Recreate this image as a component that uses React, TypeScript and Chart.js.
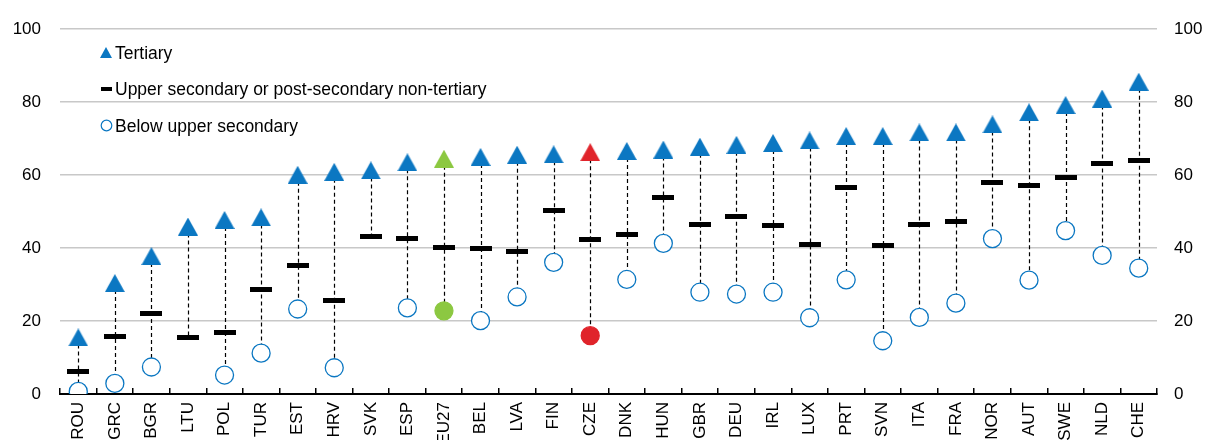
import React, { useEffect, useRef } from 'react';
import { Chart, registerables } from 'chart.js';

Chart.register(...registerables);

// ---- Data ----
const categories = ['ROU', 'GRC', 'BGR', 'LTU', 'POL', 'TUR', 'EST', 'HRV', 'SVK', 'ESP', 'EU27', 'BEL', 'LVA', 'FIN', 'CZE', 'DNK', 'HUN', 'GBR', 'DEU', 'IRL', 'LUX', 'PRT', 'SVN', 'ITA', 'FRA', 'NOR', 'AUT', 'SWE', 'NLD', 'CHE'];
const tertiary = [15.5, 30.4, 37.8, 45.9, 47.7, 48.4, 60.1, 60.9, 61.3, 63.5, 64.5, 65.0, 65.6, 65.7, 66.3, 66.6, 67.0, 67.8, 68.3, 68.8, 69.5, 70.7, 70.7, 71.7, 71.7, 73.9, 77.2, 79.2, 81.0, 85.6];
const upperSecondary = [6.3, 15.8, 22.2, 15.6, 16.8, 28.6, 35.3, 25.5, 43.3, 42.6, 40.2, 40.0, 39.0, 50.2, 42.3, 43.6, 53.8, 46.5, 48.6, 46.2, 41.1, 56.7, 40.6, 46.5, 47.3, 58.1, 57.1, 59.3, 63.3, 64.0];
const belowUpper: (number | null)[] = [0.7, 2.9, 7.4, null, 5.2, 11.2, 23.3, 7.2, null, 23.6, 22.8, 20.1, 26.6, 36.1, 16.0, 31.4, 41.3, 27.9, 27.4, 27.9, 20.9, 31.3, 14.6, 21.0, 24.9, 42.6, 31.2, 44.8, 38.0, 34.5];
const yTicks = [0, 20, 40, 60, 80, 100];
const seriesLabels = ['Tertiary', 'Upper secondary or post-secondary non-tertiary', 'Below upper secondary'];

// ---- Styles ----
const BLUE = '#0B77C2';
const GREEN = '#8CC841';
const RED = '#E0242B';
const highlight: Record<string, string> = { EU27: GREEN, CZE: RED };
const FONT = "'Liberation Sans', Arial, Helvetica, sans-serif";

function fontAvailable(name: string) {
  const c = document.createElement('canvas');
  const g = c.getContext('2d')!;
  const sample = 'GRC 0123456789 abcdefghijklm';
  g.font = '40px monospace';
  const a = g.measureText(sample).width;
  g.font = `40px '${name}', monospace`;
  const b = g.measureText(sample).width;
  return Math.abs(a - b) > 0.5;
}

function triangleImg(color: string, w: number, h: number) {
  const c = document.createElement('canvas');
  c.width = w;
  c.height = h;
  const g = c.getContext('2d')!;
  g.fillStyle = color;
  g.beginPath();
  g.moveTo(w / 2, 0);
  g.lineTo(w, h);
  g.lineTo(0, h);
  g.closePath();
  g.fill();
  return c;
}

function dashImg(color: string, w: number, h: number) {
  const c = document.createElement('canvas');
  c.width = w;
  c.height = h;
  const g = c.getContext('2d')!;
  g.fillStyle = color;
  g.fillRect(0, 0, w, h);
  return c;
}

function circleImg(color: string, d: number, lw: number) {
  const c = document.createElement('canvas');
  c.width = d;
  c.height = d;
  const g = c.getContext('2d')!;
  g.strokeStyle = color;
  g.fillStyle = '#fff';
  g.lineWidth = lw;
  g.beginPath();
  g.arc(d / 2, d / 2, d / 2 - lw, 0, Math.PI * 2);
  g.fill();
  g.stroke();
  return c;
}

const connectorPlugin = {
  id: 'connectors',
  beforeDatasetsDraw(chart: any) {
    const { ctx } = chart;
    const x = chart.scales.x;
    const y = chart.scales.y;
    const ds = chart.data.datasets;
    ctx.save();
    ctx.strokeStyle = '#000';
    ctx.lineWidth = 1.2;
    ctx.setLineDash([4, 3]);
    chart.data.labels.forEach((_: any, i: number) => {
      const vals = ds.map((d: any) => d.data[i]).filter((v: any) => v !== null && v !== undefined);
      if (vals.length < 2) return;
      const px = Math.round(x.getPixelForValue(i)) + 0.5;
      ctx.beginPath();
      ctx.moveTo(px, y.getPixelForValue(Math.max(...vals)));
      ctx.lineTo(px, y.getPixelForValue(Math.min(...vals)));
      ctx.stroke();
    });
    ctx.restore();
  },
};

const legendPlugin = {
  id: 'insideLegend',
  afterDraw(chart: any) {
    const { ctx, chartArea } = chart;
    const markers = [
      triangleImg(BLUE, 12, 11),
      dashImg('#000', 11, 4),
      circleImg(BLUE, 13, 1.2),
    ];
    const rowOffsets = [23.7, 59.5, 96.3];
    ctx.save();
    ctx.font = `17.5px ${FONT}`;
    ctx.fillStyle = '#000';
    ctx.textAlign = 'left';
    ctx.textBaseline = 'alphabetic';
    chart.data.datasets.forEach((d: any, i: number) => {
      const cy = chartArea.top + rowOffsets[i];
      const cx = chartArea.left + 46;
      const m = markers[i];
      ctx.drawImage(m, Math.round(cx - m.width / 2), Math.round(cy - m.height / 2));
      ctx.fillText(d.label, chartArea.left + 55, cy + 6.3);
    });
    ctx.restore();
  },
};

export default function App() {
  const ref = useRef<HTMLCanvasElement | null>(null);

  useEffect(() => {
    if (!ref.current) return;
    Chart.defaults.font.family = FONT;
    Chart.defaults.font.size = 17;
    Chart.defaults.color = '#000';

    const hasNarrow = fontAvailable('Liberation Sans Narrow');
    const tickFont = hasNarrow
      ? { family: "'Liberation Sans Narrow', 'Liberation Sans', Arial, sans-serif", size: 19.5 }
      : { family: FONT, size: 17 };
    const xTickFont = hasNarrow
      ? { family: "'Liberation Sans Narrow', 'Liberation Sans', Arial, sans-serif", size: 19 }
      : { family: FONT, size: 17 };

    const triBlue = triangleImg(BLUE, 20, 18);
    const triGreen = triangleImg(GREEN, 20, 18);
    const triRed = triangleImg(RED, 20, 18);
    const dash = dashImg('#000', 22, 5);

    const triStyles = categories.map((c) => (c === 'EU27' ? triGreen : c === 'CZE' ? triRed : triBlue));
    const circleFill = categories.map((c) => highlight[c] || '#fff');
    const circleBorder = categories.map((c) => highlight[c] || BLUE);

    const chart = new Chart(ref.current, {
      type: 'line',
      data: {
        labels: categories,
        datasets: [
          {
            label: seriesLabels[0],
            data: tertiary,
            showLine: false,
            pointStyle: triStyles as any,
            pointRadius: 10,
            pointHoverRadius: 10,
          },
          {
            label: seriesLabels[1],
            data: upperSecondary,
            showLine: false,
            pointStyle: dash as any,
            pointRadius: 11,
            pointHoverRadius: 11,
          },
          {
            label: seriesLabels[2],
            data: belowUpper,
            showLine: false,
            pointStyle: 'circle',
            pointRadius: 9,
            pointHoverRadius: 9,
            pointBorderWidth: 1.3,
            pointBackgroundColor: circleFill,
            pointBorderColor: circleBorder,
          },
        ],
      },
      options: {
        animation: false,
        responsive: false,
        maintainAspectRatio: false,
        events: [],
        layout: { padding: { top: 26, left: 0, right: 0, bottom: 0 } },
        plugins: {
          legend: { display: false },
          tooltip: { enabled: false },
        },
        scales: {
          x: {
            type: 'category',
            offset: true,
            grid: {
              display: true,
              offset: true,
              drawOnChartArea: false,
              drawTicks: true,
              tickLength: -6,
              color: '#000',
              lineWidth: 1.5,
            },
            border: { display: true, color: '#000', width: 2 },
            ticks: {
              autoSkip: false,
              minRotation: 90,
              maxRotation: 90,
              padding: 14,
              color: '#000',
              font: xTickFont,
            },
            afterFit: (s: any) => {
              s.height = 46;
            },
          },
          y: {
            position: 'left',
            min: 0,
            max: 100,
            afterBuildTicks: (s: any) => {
              s.ticks = yTicks.map((v) => ({ value: v }));
            },
            grid: { color: '#C8C8C8', lineWidth: 1.5, drawTicks: false },
            border: { display: false },
            ticks: { padding: 19, color: '#000', font: tickFont },
            afterFit: (s: any) => {
              s.width = 60;
            },
          },
          y2: {
            position: 'right',
            min: 0,
            max: 100,
            afterBuildTicks: (s: any) => {
              s.ticks = yTicks.map((v) => ({ value: v }));
            },
            grid: { display: false, drawTicks: false },
            border: { display: false },
            ticks: { padding: 17, color: '#000', font: tickFont },
            afterFit: (s: any) => {
              s.width = 49;
            },
          },
        },
      },
      plugins: [connectorPlugin, legendPlugin],
    });

    return () => chart.destroy();
  }, []);

  return (
    <div style={{ position: 'fixed', left: 0, top: 0, width: 1206, height: 440, background: '#fff', overflow: 'hidden' }}>
      <canvas ref={ref} width={1206} height={440} style={{ display: 'block' }} />
    </div>
  );
}
